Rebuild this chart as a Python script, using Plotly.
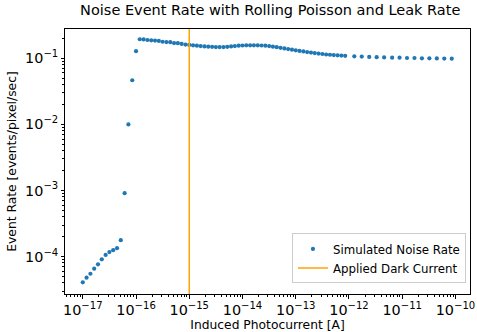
import plotly.graph_objects as go

# Induced photocurrent exponents (log10 of A)
x_exp = [-17.000, -16.929, -16.857, -16.786, -16.714, -16.643, -16.571, -16.500, -16.429, -16.357,
         -16.286, -16.214, -16.143, -16.071, -16.000, -15.929, -15.857, -15.786, -15.714, -15.643,
         -15.571, -15.500, -15.429, -15.357, -15.286, -15.214, -15.143, -15.071, -15.000, -14.929,
         -14.857, -14.786, -14.714, -14.643, -14.571, -14.500, -14.429, -14.357, -14.286, -14.214,
         -14.143, -14.071, -14.000, -13.929, -13.857, -13.786, -13.714, -13.643, -13.571, -13.500,
         -13.429, -13.357, -13.286, -13.214, -13.143, -13.071, -13.000, -12.929, -12.857, -12.786,
         -12.714, -12.643, -12.571, -12.500, -12.429, -12.357, -12.286, -12.214, -12.143, -12.071,
         -11.90, -11.76, -11.62, -11.48, -11.34, -11.19, -11.05, -10.91, -10.77, -10.63,
         -10.49, -10.35, -10.21, -10.07]

noise_rate = [4.08e-5, 4.8e-5, 5.5e-5, 6.56e-5, 7.65e-5, 9.1e-5, 1.06e-4, 1.17e-4, 1.25e-4, 1.34e-4,
              1.77e-4, 9.1e-4, 1.0e-2, 4.65e-2, 0.128, 0.194, 0.193, 0.189, 0.187, 0.185,
              0.183, 0.178, 0.176, 0.175, 0.170, 0.169, 0.165, 0.161, 0.159, 0.157,
              0.155, 0.153, 0.151, 0.150, 0.149, 0.148, 0.148, 0.148, 0.149, 0.151,
              0.153, 0.155, 0.156, 0.157, 0.157, 0.157, 0.157, 0.156, 0.155, 0.153,
              0.150, 0.147, 0.144, 0.141, 0.138, 0.135, 0.132, 0.129, 0.127, 0.124,
              0.122, 0.120, 0.118, 0.116, 0.114, 0.113, 0.112, 0.111, 0.110, 0.109,
              0.107, 0.106, 0.105, 0.104, 0.103, 0.102, 0.102, 0.101, 0.101, 0.100,
              0.100, 0.0995, 0.099, 0.0986]

dark_current = 1e-15
y_span = [10 ** -4.566, 10 ** -0.557]

photocurrent = [10 ** e for e in x_exp]

fig = go.Figure()
fig.add_trace(go.Scatter(
    x=photocurrent, y=noise_rate, mode="markers",
    marker=dict(color="#1f77b4", size=4.2),
    name="Simulated Noise Rate"))
fig.add_trace(go.Scatter(
    x=[dark_current, dark_current], y=y_span, mode="lines",
    line=dict(color="orange", width=1.5),
    name="Applied Dark Current"))

axis_common = dict(
    type="log", showgrid=False, zeroline=False,
    showline=True, linecolor="black", linewidth=1, mirror=True,
    ticks="outside", ticklen=3.5, tickwidth=0.8, tickcolor="black",
    exponentformat="power", dtick=1, ticklabeloverflow="allow",
    minor=dict(ticks="outside", ticklen=2, tickwidth=0.6, tickcolor="black", dtick="D1", showgrid=False),
    tickfont=dict(family="DejaVu Sans", size=11.5, color="black"),
)

fig.update_xaxes(**axis_common, range=[-17.334, -9.727],
                 title=dict(text="Induced Photocurrent [A]", font=dict(family="DejaVu Sans", size=12.3, color="black"), standoff=3))
fig.update_yaxes(**axis_common, range=[-4.566, -0.557],
                 title=dict(text="Event Rate [events/pixel/sec]", font=dict(family="DejaVu Sans", size=12.3, color="black"), standoff=5))

fig.update_layout(
    width=477, height=332,
    margin=dict(l=65, r=2, t=29, b=38),
    paper_bgcolor="white", plot_bgcolor="white",
    title=dict(text="Noise Event Rate with Rolling Poisson and Leak Rate",
               font=dict(family="DejaVu Sans", size=14.5, color="black"),
               x=0.5665, xanchor="center", y=0.985, yanchor="top"),
    legend=dict(x=0.99, y=0.04, xanchor="right", yanchor="bottom",
                bordercolor="#cccccc", borderwidth=1, bgcolor="rgba(255,255,255,0.8)",
                font=dict(family="DejaVu Sans", size=11.8, color="black"),
                tracegroupgap=0, itemwidth=30),
    showlegend=True,
)

fig.write_html("out.html")
